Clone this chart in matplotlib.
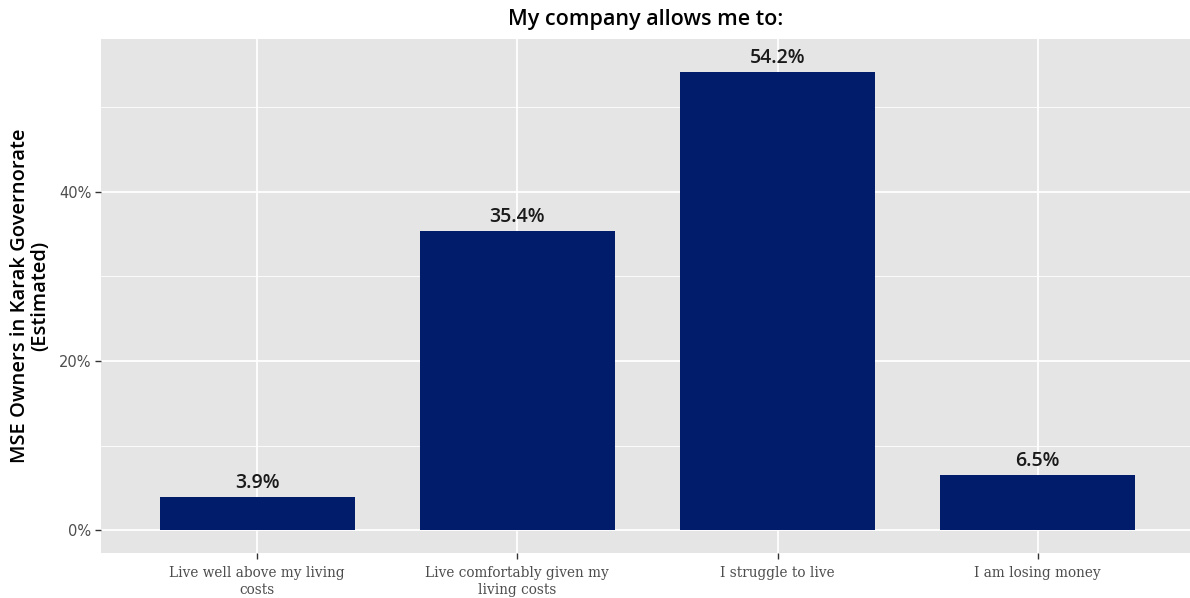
import matplotlib
matplotlib.use("Agg")
import matplotlib.pyplot as plt
from matplotlib.ticker import FixedLocator

categories = ["Live well above my living\ncosts", "Live comfortably given my\nliving costs",
              "I struggle to live", "I am losing money"]
values = [3.9, 35.4, 54.2, 6.5]
labels = ["3.9%", "35.4%", "54.2%", "6.5%"]
yticks = [0, 20, 40]
yticklabels = ["0%", "20%", "40%"]

SANS = ["Open Sans", "DejaVu Sans"]
fig = plt.figure(figsize=(11.9, 5.98), dpi=100)
ax = fig.add_axes([101/1190, 45/598, 1 - 101/1190, (553-39)/598])
ax.set_facecolor("#E5E5E5")
x = list(range(1, len(categories) + 1))
ax.set_xlim(0.4, 4.585)
ax.set_ylim(-2.72, 58.1)
ax.yaxis.set_minor_locator(FixedLocator([10, 30, 50]))
ax.grid(which="major", color="white", linewidth=1.3)
ax.grid(which="minor", axis="y", color="white", linewidth=0.6)
ax.set_axisbelow(True)
for s in ax.spines.values():
    s.set_visible(False)
ax.bar(x, values, width=0.75, color="#001C6A", zorder=3)
for xi, v, l in zip(x, values, labels):
    ax.text(xi, v + 0.45, l, ha="center", va="bottom", fontsize=14, family=SANS,
            fontweight="semibold", color="#1a1a1a", zorder=4)
ax.set_xticks(x)
ax.set_xticklabels(categories, fontsize=9.8, family="DejaVu Serif", color="#4D4D4D",
                   linespacing=1.3)
ax.set_yticks(yticks)
ax.set_yticklabels(yticklabels, fontsize=10.5, family="DejaVu Sans", color="#4D4D4D")
ax.tick_params(which="major", length=4, color="#333333", width=1, pad=3)
ax.tick_params(axis="x", pad=5)
ax.tick_params(which="minor", length=0)
ax.set_ylabel("MSE Owners in Karak Governorate\n(Estimated)", fontsize=14.5, family=SANS,
              fontweight="semibold", color="black", labelpad=6, linespacing=1.0)
fig.text((101 + 1190) / 2 / 1190, 1 - 20/598, "My company allows me to:", ha="center", va="center",
         fontsize=15.5, family=SANS, fontweight="semibold", color="black")
fig.savefig("out.png", dpi=100)
